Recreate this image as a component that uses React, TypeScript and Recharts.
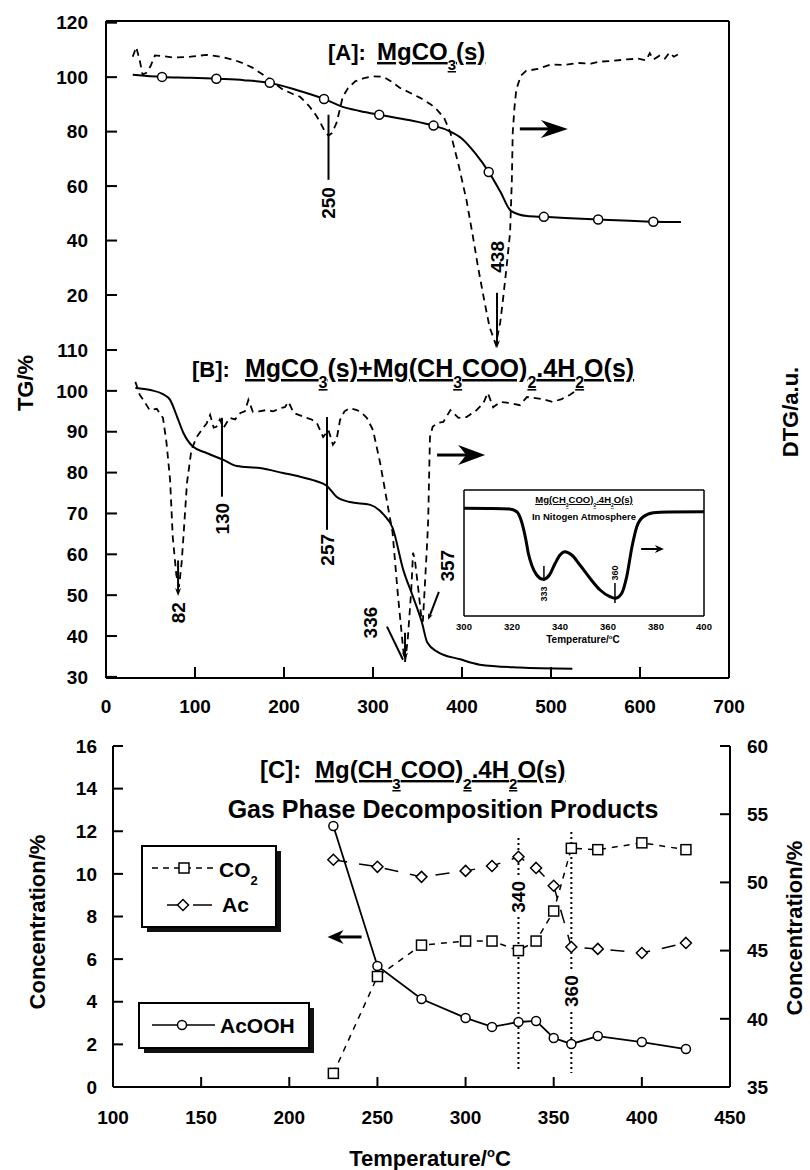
import React from "react";
import { ComposedChart, Line, XAxis, YAxis, ReferenceLine, ReferenceDot } from "recharts";

const FONT = "'Liberation Sans', Arial, Helvetica, sans-serif";
const INK = "#000";

// [A] MgCO3(s): TG curve, its marker points, DTG curve (°C, % on the A scale)
const tgA = [
  [30, 100.9], [63, 100.1], [95, 99.8], [124, 99.4], [155, 98.9], [184, 97.9], [215, 95.2],
  [245, 92.0], [266, 89.1], [285, 87.6], [307, 86.2], [340, 84.3], [368, 82.2], [385, 80.3],
  [400, 77.4], [415, 72.0], [430, 65.2], [443, 58.0], [455, 50.9], [473, 49.0], [492, 48.7],
  [553, 47.7], [615, 46.9], [646, 46.8],
];
const tgAMarks = [
  [63, 100.1], [124, 99.4], [184, 97.9], [245, 92.0], [307, 86.2],
  [368, 82.2], [430, 65.2], [492, 48.7], [553, 47.7], [615, 46.9],
];
const dtgA = [
  [30, 107.5], [34, 111], [38, 106], [41, 101], [45, 101.5], [50, 104], [55, 108], [62, 107.8],
  [75, 107.2], [95, 107.5], [113, 108.2], [130, 107.4], [143, 106.4], [155, 105], [165, 103.4],
  [180, 100.1], [190, 97.5], [199, 95.4], [210, 93.8], [218, 92.8], [228, 89.5], [236, 86],
  [241, 83.2], [246, 80], [250, 78.5], [254, 79.5], [259, 83.2], [263, 88.5], [266, 92.8],
  [272, 96], [280, 98.5], [290, 99.6], [300, 100.3], [312, 100.1], [320, 98.5], [330, 96.1],
  [342, 94.2], [353, 92.4], [365, 90], [372, 88.0], [380, 85], [387, 79.6], [396, 68],
  [405, 54.9], [412, 42], [418, 30.3], [425, 18], [431, 8.2], [438, 1.8], [443, 10],
  [446, 18.2], [450, 30], [454, 42.8], [456, 62], [457, 79.6], [459, 89], [461, 95.4],
  [466, 100.5], [472, 102.3], [485, 103], [499, 104.6], [515, 104.5], [530, 105.2],
  [545, 105], [555, 105.7], [570, 106], [585, 106.5], [598, 106.8], [607, 106.2],
  [611, 108.8], [615, 106.5], [622, 107.9], [628, 106.8], [633, 109], [638, 107.5], [645, 108.8],
];

// [B] MgCO3(s)+Mg(CH3COO)2.4H2O(s) (°C, % on the B scale)
const tgB = [
  [33, 100.7], [50, 100.2], [64, 99.2], [72, 97.8], [80, 93.6], [87, 89.7], [98, 86.3],
  [113, 84.8], [132, 83.1], [147, 81.6], [173, 81.1], [199, 79.9], [218, 79.0], [235, 78.0],
  [248, 76.8], [259, 74.1], [274, 72.8], [297, 72.1], [312, 69.7], [322, 66.5], [334, 56.2],
  [345, 49.6], [355, 43.3], [361, 38.4], [372, 36.2], [398, 34.3], [420, 33.0], [465, 32.3],
  [524, 32.0],
];
const dtgB = [
  [33, 102.2], [38, 99], [42, 97.8], [49, 95.3], [57, 95.6], [64, 93.4], [68, 87.3], [72, 78.2],
  [75, 64.3], [79, 55], [82, 52], [85, 58], [87, 64.3], [91, 77.5], [96, 85.6], [102, 88.7],
  [109, 90.9], [113, 92], [117, 94.1], [121, 91], [124, 91.2], [128, 93], [132, 90.9],
  [139, 93.4], [145, 93], [151, 94.6], [156, 95], [160, 97.8], [165, 94.9], [172, 95],
  [180, 95.3], [188, 95], [196, 95.8], [201, 96], [205, 97.3], [211, 94.6], [218, 94],
  [225, 93.4], [231, 93], [237, 92.1], [244, 88.7], [250, 90.4], [255, 86.8], [259, 88.0],
  [263, 92.9], [268, 95], [274, 95.8], [282, 95.3], [288, 94.5], [293, 93.4], [300, 90.4],
  [308, 82.4], [316, 72.6], [322, 65.3], [328, 50], [334, 36.6], [336, 33.7], [339, 39.1],
  [343, 51.3], [345, 60.4], [347, 58.7], [351, 51.3], [354, 45.2], [356, 43.5], [358, 51.3],
  [361, 63.5], [362, 68.4], [364, 88.7], [367, 91.2], [372, 92.1], [379, 92.4], [387, 95.3],
  [396, 93.4], [405, 93.6], [415, 95], [424, 97.0], [429, 99.5], [435, 96], [443, 97.3],
  [455, 97], [465, 96.5], [473, 98.5], [490, 98], [502, 97.3], [512, 98], [521, 99.0], [528, 100],
];

// inset: Mg(CH3COO)2.4H2O(s) in nitrogen, DTG (a.u.)
const insetDtg = [
  [300, 107.7], [310, 107.5], [319, 107], [322, 104.3], [324, 94.3], [325.8, 76], [326.8, 62.7],
  [328.2, 51], [330.3, 41], [333, 36.7], [335.6, 41], [338, 52.7], [340, 61], [342, 64.3],
  [344.9, 61], [348.3, 51], [352.5, 37.7], [356.7, 26], [360.8, 19.3], [362.9, 17.7],
  [365.7, 22.7], [367.8, 39.3], [370, 69.3], [372, 89.3], [374.7, 99.3], [378.9, 103.3],
  [385, 104], [400, 104.3],
];

// [C] gas phase decomposition products
const cTemps = [225, 250, 275, 300, 315, 330, 340, 350, 360, 375, 400, 425];
const co2 = [36.0, 43.1, 45.4, 45.7, 45.7, 45.0, 45.7, 47.9, 52.5, 52.4, 52.9, 52.4];
const ac = [10.66, 10.33, 9.86, 10.14, 10.37, 10.8, 10.28, 9.44, 6.57, 6.48, 6.29, 6.76];
const acooh = [12.25, 5.68, 4.13, 3.24, 2.82, 3.05, 3.1, 2.3, 2.02, 2.39, 2.11, 1.78];

const tempTicks = [0, 100, 200, 300, 400, 500, 600, 700];
const tgATicks = [20, 40, 60, 80, 100, 120];
const tgBTicks = [30, 40, 50, 60, 70, 80, 90, 100, 110];
const cXTicks = [100, 150, 200, 250, 300, 350, 400, 450];
const cLeftTicks = [0, 2, 4, 6, 8, 10, 12, 14, 16];
const cRightTicks = [35, 40, 45, 50, 55, 60];
const insetTicks = [300, 320, 340, 360, 380, 400];

const A_DOMAIN: [number, number] = [-120.65, 120.62];
const B_DOMAIN: [number, number] = [29.73, 190.52];

const toPts = (rows: number[][]) => rows.map(([t, v]) => ({ t, v }));
const cData = cTemps.map((t, i) => ({ t, co2: co2[i], ac: ac[i], acooh: acooh[i] }));

const tickFont = { fontSize: 19, fontWeight: 700, fill: INK, fontFamily: FONT };
const heavy = { stroke: INK, strokeWidth: 2 };
const thin = { stroke: INK, strokeWidth: 1.5 };
const off = { axisLine: false, tickLine: false, tick: false } as const;

const vLabel = (value: string, size = 19) => ({
  value, position: "center" as const, angle: -90, fontSize: size, fontWeight: 700, fill: INK, fontFamily: FONT,
});

function Arrow(props: any) {
  const { x1, y1, x2, y2, len = 14, half = 6, sw = 2 } = props;
  const dx = x2 - x1;
  const dy = y2 - y1;
  const d = Math.hypot(dx, dy) || 1;
  const ux = dx / d, uy = dy / d;
  const px = -uy, py = ux;
  const bx = x2 - ux * len, by = y2 - uy * len;
  const nx = x2 - ux * len * 0.7, ny = y2 - uy * len * 0.7;
  return (
    <g>
      <line x1={x1} y1={y1} x2={nx} y2={ny} stroke={INK} strokeWidth={sw} />
      <polygon
        points={`${x2},${y2} ${bx + px * half},${by + py * half} ${nx},${ny} ${bx - px * half},${by - py * half}`}
        fill={INK}
      />
    </g>
  );
}

const circleDot = (p: any) => (
  <circle key={`c${p.index}`} cx={p.cx} cy={p.cy} r={4.5} fill="#fff" stroke={INK} strokeWidth={1.5} />
);
const squareDot = (p: any) => (
  <rect key={`s${p.index}`} x={p.cx - 5} y={p.cy - 5} width={10} height={10} fill="#fff" stroke={INK} strokeWidth={1.5} />
);
const diamondDot = (p: any) => (
  <polygon
    key={`d${p.index}`}
    points={`${p.cx},${p.cy - 5.5} ${p.cx + 5.5},${p.cy} ${p.cx},${p.cy + 5.5} ${p.cx - 5.5},${p.cy}`}
    fill="#fff"
    stroke={INK}
    strokeWidth={1.5}
  />
);

function PanelA() {
  return (
    <ComposedChart width={810} height={720} margin={{ top: 11, right: 61, bottom: 12, left: 0 }}>
      <XAxis xAxisId="top" orientation="top" type="number" dataKey="t" domain={[0, 700]} allowDataOverflow
        ticks={[100, 200, 300, 400, 500, 600]} height={10} tick={false} tickSize={-11} axisLine={heavy} tickLine={heavy} />
      <XAxis xAxisId="bot" type="number" dataKey="t" domain={[0, 700]} allowDataOverflow ticks={tempTicks} height={30} {...off} />
      <YAxis yAxisId="tg" type="number" domain={A_DOMAIN} allowDataOverflow ticks={tgATicks} width={106}
        tickSize={-11} tickMargin={29} tick={tickFont} axisLine={heavy} tickLine={heavy} />
      <YAxis yAxisId="dtg" orientation="right" type="number" domain={A_DOMAIN} allowDataOverflow
        ticks={[20, 40, 60, 80, 100]} width={20} tickSize={-11} tick={false} axisLine={heavy} tickLine={heavy} />
      <Line xAxisId="bot" yAxisId="dtg" data={toPts(dtgA)} dataKey="v" type="linear" stroke={INK}
        strokeWidth={1.8} strokeDasharray="7 5" dot={false} isAnimationActive={false} />
      <Line xAxisId="bot" yAxisId="tg" data={toPts(tgA)} dataKey="v" type="monotone" stroke={INK}
        strokeWidth={2} dot={false} isAnimationActive={false} />
      <Line xAxisId="bot" yAxisId="tg" data={toPts(tgAMarks)} dataKey="v" stroke="none" dot={circleDot}
        isAnimationActive={false} />
      <ReferenceLine xAxisId="bot" yAxisId="tg" segment={[{ x: 250, y: 86.2 }, { x: 250, y: 62.3 }]} stroke={INK} strokeWidth={2} />
      <ReferenceDot xAxisId="bot" yAxisId="tg" x={250} y={53.8} r={1} fill="none" stroke="none" label={vLabel("250")} />
      <ReferenceLine xAxisId="bot" yAxisId="tg" segment={[{ x: 439.3, y: 20.8 }, { x: 439.3, y: 0.4 }]}
        shape={(p: any) => <Arrow {...p} len={8} half={3} sw={2} />} />
      <ReferenceDot xAxisId="bot" yAxisId="tg" x={439.3} y={34} r={1} fill="none" stroke="none" label={vLabel("438")} />
      <ReferenceLine xAxisId="bot" yAxisId="tg" segment={[{ x: 465, y: 81 }, { x: 519, y: 81 }]}
        shape={(p: any) => <Arrow {...p} len={27} half={9} sw={3} />} />
    </ComposedChart>
  );
}

function PanelB() {
  return (
    <ComposedChart width={810} height={720} margin={{ top: 11, right: 61, bottom: 12, left: 0 }}>
      <XAxis xAxisId="top" orientation="top" type="number" dataKey="t" domain={[0, 700]} allowDataOverflow height={10} {...off} />
      <XAxis xAxisId="bot" type="number" dataKey="t" domain={[0, 700]} allowDataOverflow ticks={tempTicks} height={30}
        tickSize={-11} tickMargin={33} tick={tickFont} axisLine={heavy} tickLine={heavy} />
      <YAxis yAxisId="tg" type="number" domain={B_DOMAIN} allowDataOverflow ticks={tgBTicks} width={106}
        tickSize={-11} tickMargin={29} tick={tickFont} axisLine={heavy} tickLine={heavy} />
      <YAxis yAxisId="dtg" orientation="right" type="number" domain={B_DOMAIN} allowDataOverflow
        ticks={[40, 50, 60, 70, 80, 90, 100, 110]} width={20} tickSize={-11} tick={false} axisLine={heavy} tickLine={heavy} />
      <Line xAxisId="bot" yAxisId="dtg" data={toPts(dtgB)} dataKey="v" type="linear" stroke={INK}
        strokeWidth={1.8} strokeDasharray="7 5" dot={false} isAnimationActive={false} />
      <Line xAxisId="bot" yAxisId="tg" data={toPts(tgB)} dataKey="v" type="monotone" stroke={INK}
        strokeWidth={2} dot={false} isAnimationActive={false} />
      <ReferenceLine xAxisId="bot" yAxisId="tg" segment={[{ x: 81, y: 58.5 }, { x: 81, y: 49.8 }]}
        shape={(p: any) => <Arrow {...p} len={8} half={3} sw={2} />} />
      <ReferenceDot xAxisId="bot" yAxisId="tg" x={81} y={45.7} r={1} fill="none" stroke="none" label={vLabel("82")} />
      <ReferenceLine xAxisId="bot" yAxisId="tg" segment={[{ x: 130.3, y: 93.4 }, { x: 130.3, y: 74.1 }]} stroke={INK} strokeWidth={2} />
      <ReferenceDot xAxisId="bot" yAxisId="tg" x={130.3} y={68.7} r={1} fill="none" stroke="none" label={vLabel("130")} />
      <ReferenceLine xAxisId="bot" yAxisId="tg" segment={[{ x: 248.3, y: 93.6 }, { x: 248.3, y: 66.0 }]} stroke={INK} strokeWidth={2} />
      <ReferenceDot xAxisId="bot" yAxisId="tg" x={248.3} y={61.1} r={1} fill="none" stroke="none" label={vLabel("257")} />
      <ReferenceLine xAxisId="bot" yAxisId="tg" segment={[{ x: 315.7, y: 42.3 }, { x: 333.7, y: 34.2 }]} stroke={INK} strokeWidth={2} />
      <ReferenceLine xAxisId="bot" yAxisId="tg" segment={[{ x: 336, y: 40.8 }, { x: 336, y: 34.0 }]}
        shape={(p: any) => <Arrow {...p} len={8} half={3} sw={2} />} />
      <ReferenceDot xAxisId="bot" yAxisId="tg" x={296.6} y={43.3} r={1} fill="none" stroke="none" label={vLabel("336")} />
      <ReferenceLine xAxisId="bot" yAxisId="tg" segment={[{ x: 374, y: 50.8 }, { x: 362, y: 44.0 }]}
        shape={(p: any) => <Arrow {...p} len={6} half={2.5} sw={2} />} />
      <ReferenceDot xAxisId="bot" yAxisId="tg" x={383} y={57.2} r={1} fill="none" stroke="none" label={vLabel("357")} />
      <ReferenceLine xAxisId="bot" yAxisId="tg" segment={[{ x: 372, y: 84.3 }, { x: 426, y: 84.3 }]}
        shape={(p: any) => <Arrow {...p} len={27} half={10} sw={3} />} />
    </ComposedChart>
  );
}

function Inset() {
  const small = { fontSize: 9.5, fontWeight: 700, fill: INK, fontFamily: FONT };
  return (
    <ComposedChart width={290} height={175} margin={{ top: 5, right: 25, bottom: 19, left: 23 }}>
      <XAxis xAxisId="top" orientation="top" type="number" dataKey="t" domain={[300, 400]} allowDataOverflow
        ticks={[320, 340, 360, 380]} height={5} tick={false} tickSize={-5} axisLine={thin} tickLine={thin} />
      <XAxis type="number" dataKey="t" domain={[300, 400]} allowDataOverflow ticks={insetTicks} height={20}
        tickSize={0} tickMargin={7} tickLine={false} tick={small} axisLine={thin} />
      <YAxis type="number" domain={[0, 126]} allowDataOverflow width={1} tick={false} tickLine={false} axisLine={thin} />
      <YAxis yAxisId="r" orientation="right" type="number" domain={[0, 126]} allowDataOverflow width={1}
        tick={false} tickLine={false} axisLine={thin} />
      <Line data={toPts(insetDtg)} dataKey="v" type="monotone" stroke={INK} strokeWidth={3} dot={false} isAnimationActive={false} />
      <ReferenceLine segment={[{ x: 333.3, y: 50 }, { x: 333.3, y: 35 }]} stroke={INK} strokeWidth={1.5} />
      <ReferenceDot x={333.3} y={22} r={1} fill="none" stroke="none" label={vLabel("333", 9)} />
      <ReferenceLine segment={[{ x: 362.9, y: 33 }, { x: 362.9, y: 13 }]} stroke={INK} strokeWidth={1.5} />
      <ReferenceDot x={362.9} y={43} r={1} fill="none" stroke="none" label={vLabel("360", 9)} />
      <ReferenceLine segment={[{ x: 373.8, y: 67 }, { x: 383.3, y: 67 }]}
        shape={(p: any) => <Arrow {...p} len={9} half={4} sw={2} />} />
    </ComposedChart>
  );
}

function PanelC() {
  return (
    <ComposedChart width={810} height={450} data={cData} margin={{ top: 26, right: 0, bottom: 43, left: 0 }}>
      <XAxis type="number" dataKey="t" domain={[100, 450]} allowDataOverflow ticks={cXTicks} height={40}
        tickSize={-10} tickMargin={34} tick={tickFont} axisLine={heavy} tickLine={heavy} />
      <YAxis yAxisId="l" type="number" domain={[0, 16]} allowDataOverflow ticks={cLeftTicks} width={113}
        tickSize={-10} tickMargin={26} tick={tickFont} axisLine={heavy} tickLine={heavy} />
      <YAxis yAxisId="r" orientation="right" type="number" domain={[35, 60]} allowDataOverflow ticks={cRightTicks}
        width={80} tickSize={-10} tickMargin={27} tick={{ ...tickFont, textAnchor: "start" }} axisLine={heavy} tickLine={heavy} />
      <ReferenceLine yAxisId="l" segment={[{ x: 330, y: 11.68 }, { x: 330, y: 9.81 }]} stroke={INK} strokeWidth={2} strokeDasharray="2 3" />
      <ReferenceLine yAxisId="l" segment={[{ x: 330, y: 7.98 }, { x: 330, y: 0.8 }]} stroke={INK} strokeWidth={2} strokeDasharray="2 3" />
      <ReferenceDot yAxisId="l" x={330} y={8.92} r={1} fill="none" stroke="none" label={vLabel("340")} />
      <ReferenceLine yAxisId="l" segment={[{ x: 360, y: 11.97 }, { x: 360, y: 5.44 }]} stroke={INK} strokeWidth={2} strokeDasharray="2 3" />
      <ReferenceLine yAxisId="l" segment={[{ x: 360, y: 3.52 }, { x: 360, y: 0.66 }]} stroke={INK} strokeWidth={2} strokeDasharray="2 3" />
      <ReferenceDot yAxisId="l" x={360} y={4.5} r={1} fill="none" stroke="none" label={vLabel("360")} />
      <Line yAxisId="r" dataKey="co2" type="linear" stroke={INK} strokeWidth={1.5} strokeDasharray="6 6"
        dot={squareDot} isAnimationActive={false} />
      <Line yAxisId="l" dataKey="ac" type="linear" stroke={INK} strokeWidth={1.5} strokeDasharray="14 12"
        dot={diamondDot} isAnimationActive={false} />
      <Line yAxisId="l" dataKey="acooh" type="linear" stroke={INK} strokeWidth={1.8} dot={circleDot} isAnimationActive={false} />
      <ReferenceLine yAxisId="l" segment={[{ x: 241, y: 7.04 }, { x: 221.7, y: 7.04 }]}
        shape={(p: any) => <Arrow {...p} len={16} half={7} sw={3} />} />
    </ComposedChart>
  );
}

function Formula({ x, y, src, size, sub, drop, anchor = "start" }: any) {
  const parts = src.split(/_(\d)/);
  return (
    <text x={x} y={y} fontSize={size} textAnchor={anchor} textDecoration="underline">
      {parts.map((p: string, i: number) =>
        i % 2 === 1 ? (
          <tspan key={i} fontSize={sub} dy={drop}>{p}</tspan>
        ) : (
          <tspan key={i} dy={i === 0 ? 0 : -drop}>{p}</tspan>
        )
      )}
    </text>
  );
}

function Overlay() {
  return (
    <svg width={810} height={1170} style={{ position: "absolute", left: 0, top: 0, pointerEvents: "none" }}
      fontFamily={FONT} fontWeight={700} fill={INK}>
      <text x={328} y={60} fontSize={22}>[A]:</text>
      <Formula x={377} y={60} src="MgCO_3(s)" size={24} sub={15} drop={10} />
      <text x={192} y={377} fontSize={22}>[B]:</text>
      <Formula x={245} y={377} src="MgCO_3(s)+Mg(CH_3COO)_2.4H_2O(s)" size={25} sub={16} drop={11} />

      <text transform="translate(33,383) rotate(-90)" fontSize={22} textAnchor="middle">TG/%</text>
      <text transform="translate(798,412) rotate(-90)" fontSize={22} textAnchor="middle">DTG/a.u.</text>

      <Formula x={584} y={503} src="Mg(CH_3COO)_2.4H_2O(s)" size={9.5} sub={5} drop={4} anchor="middle" />
      <text x={584} y={520} fontSize={9.5} textAnchor="middle">In Nitogen Atmosphere</text>
      <text x={583} y={643} fontSize={10} textAnchor="middle">
        Temperature/<tspan fontSize={6} dy={-4}>o</tspan><tspan dy={4}>C</tspan>
      </text>

      <text x={260} y={778} fontSize={24}>[C]:</text>
      <Formula x={315} y={778} src="Mg(CH_3COO)_2.4H_2O(s)" size={24} sub={15} drop={11} />
      <text x={443} y={818} fontSize={25} textAnchor="middle">Gas Phase Decomposition Products</text>

      <text transform="translate(45,922) rotate(-90)" fontSize={22} textAnchor="middle">Concentration/%</text>
      <text transform="translate(802,928) rotate(-90)" fontSize={22} textAnchor="middle">Concentration/%</text>
      <text x={430} y={1166} fontSize={22} textAnchor="middle">
        Temperature/<tspan fontSize={13} dy={-9}>o</tspan><tspan dy={9}>C</tspan>
      </text>

      <rect x={147} y={851} width={134} height={81} fill="#111" />
      <rect x={142} y={846} width={134} height={81} fill="#fff" stroke={INK} strokeWidth={2} />
      <line x1={152} y1={868} x2={215} y2={868} stroke={INK} strokeWidth={1.5} strokeDasharray="6 5" />
      <rect x={179} y={863} width={10} height={10} fill="#fff" stroke={INK} strokeWidth={1.5} />
      <text x={219} y={877} fontSize={21}>CO<tspan fontSize={13} dy={8}>2</tspan></text>
      <line x1={167} y1={905} x2={178} y2={905} stroke={INK} strokeWidth={1.5} />
      <line x1={193} y1={905} x2={212} y2={905} stroke={INK} strokeWidth={1.5} />
      <polygon points="183,899.5 188.5,905 183,910.5 177.5,905" fill="#fff" stroke={INK} strokeWidth={1.5} />
      <text x={222} y={912} fontSize={21}>Ac</text>

      <rect x={144} y={1008} width={170} height={45} fill="#111" />
      <rect x={139} y={1003} width={170} height={45} fill="#fff" stroke={INK} strokeWidth={2} />
      <line x1={152} y1={1025} x2={215} y2={1025} stroke={INK} strokeWidth={1.5} />
      <circle cx={182} cy={1025} r={4.5} fill="#fff" stroke={INK} strokeWidth={1.5} />
      <text x={220} y={1033} fontSize={21}>AcOOH</text>
    </svg>
  );
}

export default function App() {
  return (
    <div style={{ position: "absolute", left: 0, top: 0, width: 810, height: 1170, background: "#fff", fontFamily: FONT }}>
      <div style={{ position: "absolute", left: 0, top: 0 }}><PanelA /></div>
      <div style={{ position: "absolute", left: 0, top: 0 }}><PanelB /></div>
      <div style={{ position: "absolute", left: 440, top: 480 }}><Inset /></div>
      <div style={{ position: "absolute", left: 0, top: 720 }}><PanelC /></div>
      <Overlay />
    </div>
  );
}
